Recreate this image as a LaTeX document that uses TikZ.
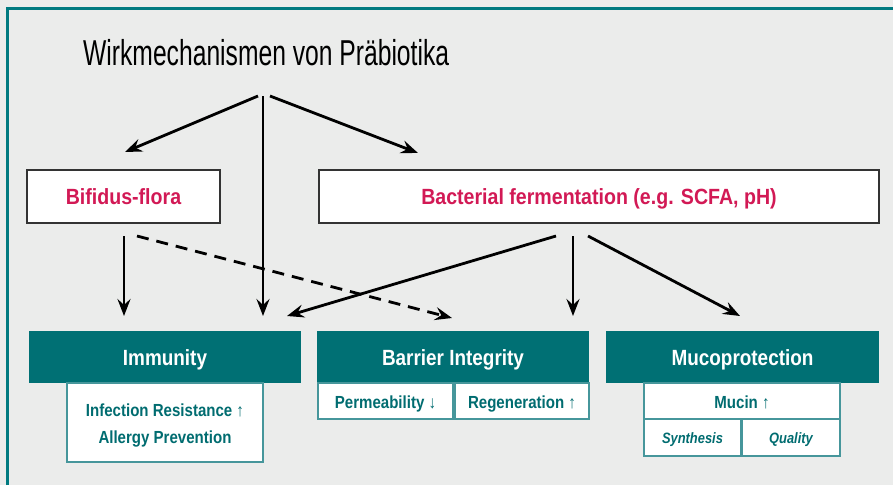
\documentclass[tikz,border=0pt]{standalone}
\usepackage{fontspec}
\setmainfont{Liberation Sans}
\newfontfamily\titlefont[FakeStretch=0.685]{Liberation Sans}
\newfontfamily\boxfont[FakeStretch=0.86]{Liberation Sans}
\newfontfamily\topfont[FakeStretch=0.89]{Liberation Sans}
\usetikzlibrary{arrows.meta}
\definecolor{bgc}{RGB}{235,236,235}
\definecolor{teal1}{RGB}{0,112,116}
\definecolor{teal2}{RGB}{70,150,155}
\definecolor{tealtxt}{RGB}{0,108,112}
\definecolor{crim}{RGB}{210,25,85}
\definecolor{frame}{RGB}{0,122,128}
\tikzset{
  x=1pt,y=-1pt,
  topbox/.style={draw=black!80,line width=1.2pt,fill=white,inner sep=0pt,
    text height=18pt,text depth=3pt,
    font=\topfont\fontsize{22}{24}\selectfont\bfseries,text=crim},
  hdr/.style={fill=teal1,inner sep=0pt,text=white,text height=19pt,text depth=2pt,
    font=\boxfont\fontsize{22}{24}\selectfont\bfseries},
  sub/.style={draw=teal2,line width=1.2pt,fill=white,inner sep=0pt,text=tealtxt,
    text height=15.5pt,text depth=1pt,
    font=\boxfont\fontsize{17.5}{27}\selectfont\bfseries,align=center},
  subtext/.style={inner sep=0pt,text=tealtxt,
    font=\boxfont\fontsize{17.5}{27}\selectfont\bfseries,align=center},
  subit/.style={sub,text height=12.6pt,text depth=1pt,
    font=\boxfont\fontsize{15}{18}\selectfont\bfseries\itshape},
  arr/.style={line width=2.8pt,-{Stealth[length=17pt,width=13pt,inset=6pt]}},
}
\begin{document}
\begin{tikzpicture}
\useasboundingbox (0,0) rectangle (893,485);
\fill[bgc] (0,0) rectangle (893,485);
\draw[frame,line width=2.5pt] (7.5,485) -- (7.5,8.5) -- (893,8.5);

\node[anchor=base west,inner sep=0pt,font=\titlefont\fontsize{36}{40}\selectfont] (title) at (83,65) {Wirkmechanismen von Präbiotika};

\node[topbox,minimum width=193pt,minimum height=53pt] (bif) at (123.5,196.5) {Bifidus-flora};
\node[topbox,minimum width=560pt,minimum height=53pt] (bac) at (599,196.5) {Bacterial fermentation (e.g. SCFA, pH)};

\node[hdr,minimum width=272pt,minimum height=52pt] (imm) at (165,357) {Immunity};
\node[sub,minimum width=196pt,minimum height=79pt] (immsub) at (165,422.5) {};
\node[subtext] (immtxt) at ([yshift=-3pt]immsub.center) {Infection Resistance ↑\\Allergy Prevention};

\node[hdr,minimum width=272pt,minimum height=52pt] (bar) at (453,357) {Barrier Integrity};
\node[sub,minimum width=135pt,minimum height=36pt] (perm) at (385.5,401) {Permeability ↓};
\node[sub,minimum width=134pt,minimum height=36pt] (regen) at (522,401) {Regeneration ↑};

\node[hdr,minimum width=273pt,minimum height=52pt] (muc) at (742.5,357) {Mucoprotection};
\node[sub,minimum width=196pt,minimum height=36pt] (mucin) at (742,401) {Mucin ↑};
\node[subit,minimum width=97pt,minimum height=37pt] (syn) at (692.5,437.5) {Synthesis};
\node[subit,minimum width=98pt,minimum height=37pt] (qual) at (791,437.5) {Quality};

% connector end points
\coordinate (t1) at (258,96);
\coordinate (t2) at (263,96);
\coordinate (t3) at (270,96);
\coordinate (bifin) at (125,152);
\coordinate (bacin) at (418,153);
\coordinate (b1) at (124,236);
\coordinate (b2) at (137,236);
\coordinate (c1) at (556,236);
\coordinate (c2) at (573,236);
\coordinate (c3) at (588,236);
\coordinate (immin1) at (124,316);
\coordinate (immin2) at (263,316);
\coordinate (immin3) at (287,316);
\coordinate (barin1) at (452,318);
\coordinate (barin2) at (573,316);
\coordinate (mucin1) at (740,316);

\draw[arr] (t1) -- (bifin);
\draw[arr] (t2) -- (immin2);
\draw[arr] (t3) -- (bacin);
\draw[arr] (b1) -- (immin1);
\draw[arr,dash pattern=on 12pt off 8pt] (b2) -- (barin1);
\draw[arr] (c1) -- (immin3);
\draw[arr] (c2) -- (barin2);
\draw[arr] (c3) -- (mucin1);
\end{tikzpicture}
\end{document}
